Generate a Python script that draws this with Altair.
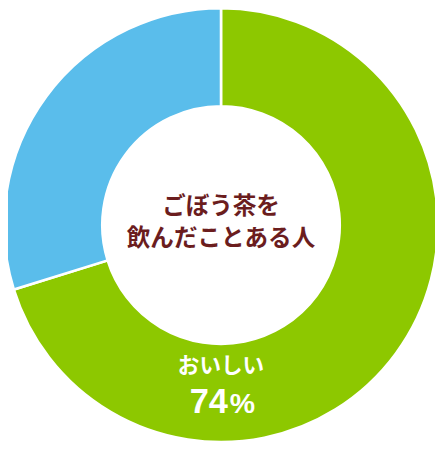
import altair as alt
import pandas as pd

categories = ["おいしい", "その他"]
values = [70.2, 29.8]
colors = ["#8DC800", "#5ABDEB"]
center_lines = ["ごぼう茶を", "飲んだことある人"]
slice_label = "おいしい"
pct_number = "74"
pct_sign = "%"

df = pd.DataFrame({"cat": categories, "val": values, "ord": list(range(len(values)))})

CX, CY = 217, 217
font = "Noto Sans CJK JP"
num_font = "Liberation Sans"

arc = alt.Chart(df).mark_arc(radius=221, radius2=121, stroke="white", strokeWidth=2.6).encode(
    theta=alt.Theta("val:Q", stack=True),
    order=alt.Order("ord:Q"),
    color=alt.Color("cat:N", scale=alt.Scale(domain=categories, range=colors), legend=None),
    x=alt.value(CX),
    y=alt.value(CY),
)

def txt(text, dx, dy, size, color, align="center", f=font, baseline="middle"):
    return alt.Chart(pd.DataFrame({"t": [text]})).mark_text(
        font=f, fontSize=size, fontWeight="bold", color=color, align=align, baseline=baseline
    ).encode(text="t:N", x=alt.value(CX + dx), y=alt.value(CY + dy))

brown = "#6B1D1E"
layers = [
    arc,
    txt(center_lines[0], 0, -18, 24, brown),
    txt(center_lines[1], 0, 14, 24, brown),
    txt(slice_label, 0, 144, 22, "white"),
    txt(pct_number, 7, 191, 35, "white", align="right", f=num_font, baseline="alphabetic"),
    txt(pct_sign, 9, 191, 29, "white", align="left", f=num_font, baseline="alphabetic"),
]

chart = alt.layer(*layers).properties(
    width=435, height=446, padding=0, autosize=alt.AutoSizeParams(type="none")
).configure_view(stroke=None)

chart.save("out.html", embed_options={"renderer": "svg", "actions": False})
